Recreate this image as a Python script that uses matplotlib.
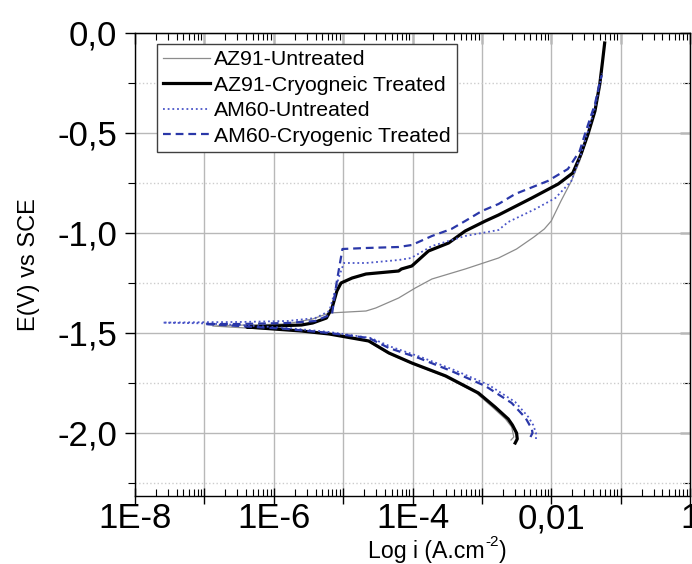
import numpy as np
import matplotlib
matplotlib.use("Agg")
import matplotlib.pyplot as plt
from matplotlib.ticker import FixedLocator, FuncFormatter, MultipleLocator, NullFormatter

plt.rcParams['font.family'] = ['Liberation Sans', 'DejaVu Sans']

# Polarization curves: log10 of current density (A/cm^2) and potential E (V vs SCE),
# each listed from the cathodic end, through the corrosion tip, to the anodic end.
az91_untreated_logi = [-2.58, -2.54, -2.57, -2.66, -2.85, -3.08, -3.55, -4.03, -4.36, -4.65,
                       -5.20, -5.80, -6.40, -6.88,
                       -6.40, -5.82, -5.44, -5.20, -4.67, -4.53, -4.20, -3.96, -3.72, -3.24,
                       -2.76, -2.50, -2.25, -2.10, -2.00, -1.86, -1.71, -1.59, -1.48, -1.38,
                       -1.30, -1.27]
az91_untreated_e = [-2.035, -2.02, -1.97, -1.93, -1.87, -1.80, -1.715, -1.65, -1.60, -1.54,
                    -1.505, -1.485, -1.475, -1.465,
                    -1.46, -1.455, -1.43, -1.40, -1.39, -1.375, -1.325, -1.275, -1.23, -1.18,
                    -1.125, -1.08, -1.02, -0.98, -0.94, -0.84, -0.74, -0.64, -0.52, -0.40,
                    -0.25, -0.18]

az91_cryo_logi = [-2.52, -2.49, -2.50, -2.56, -2.62, -2.81, -3.05, -3.52, -4.01, -4.34,
                  -4.63, -5.20, -5.60, -6.00, -6.39,
                  -6.00, -5.60, -5.44, -5.24, -5.16, -5.09, -5.03, -4.87, -4.67, -4.20,
                  -4.16, -4.01, -3.77, -3.48, -3.24, -2.95, -2.76, -2.28, -1.90, -1.69,
                  -1.57, -1.47, -1.37, -1.30, -1.26, -1.23]
az91_cryo_e = [-2.05, -2.03, -2.00, -1.96, -1.93, -1.87, -1.80, -1.715, -1.65, -1.60,
               -1.54, -1.505, -1.49, -1.48, -1.47,
               -1.465, -1.46, -1.45, -1.425, -1.375, -1.29, -1.25, -1.225, -1.205, -1.19,
               -1.18, -1.165, -1.09, -1.05, -0.99, -0.94, -0.91, -0.825, -0.755, -0.70,
               -0.605, -0.505, -0.39, -0.255, -0.14, -0.05]

am60_untreated_logi = [-2.22, -2.22, -2.26, -2.33, -2.52, -2.90, -3.40, -3.88, -4.30, -4.60,
                       -5.20, -5.80, -6.50, -7.00, -7.60,
                       -7.00, -6.50, -5.80, -5.40, -5.20, -5.06, -4.99, -4.67, -4.20, -4.02,
                       -3.72, -3.24, -2.76, -2.62, -2.23, -1.94, -1.71, -1.57, -1.47, -1.37,
                       -1.29, -1.27]
am60_untreated_e = [-2.03, -2.00, -1.96, -1.92, -1.845, -1.76, -1.685, -1.62, -1.57, -1.525,
                    -1.495, -1.475, -1.46, -1.452, -1.448,
                    -1.446, -1.445, -1.44, -1.425, -1.39, -1.22, -1.15, -1.15, -1.135, -1.125,
                    -1.065, -1.015, -0.985, -0.945, -0.88, -0.825, -0.74, -0.605, -0.49, -0.375,
                    -0.24, -0.20]

am60_cryo_logi = [-2.30, -2.27, -2.28, -2.37, -2.57, -2.95, -3.44, -3.91, -4.34, -4.63,
                  -5.20, -5.80, -6.50, -7.00,
                  -6.50, -5.80, -5.40, -5.16, -5.09, -5.01, -4.67, -4.20, -4.01, -3.72,
                  -3.44, -3.24, -3.00, -2.76, -2.52, -2.05, -1.76, -1.59, -1.50, -1.37,
                  -1.29, -1.27]
am60_cryo_e = [-2.02, -2.00, -1.98, -1.925, -1.85, -1.765, -1.69, -1.625, -1.575, -1.525,
               -1.50, -1.48, -1.465, -1.455,
               -1.455, -1.45, -1.44, -1.405, -1.24, -1.08, -1.075, -1.07, -1.06, -1.015,
               -0.98, -0.94, -0.89, -0.855, -0.805, -0.74, -0.68, -0.59, -0.49, -0.355,
               -0.23, -0.21]

series_labels = ['AZ91-Untreated', 'AZ91-Cryogneic Treated',
                 'AM60-Untreated', 'AM60-Cryogenic Treated']

x_tick_labels = {-8: '1E-8', -6: '1E-6', -4: '1E-4', -2: '0,01', 0: '1'}

W, H = 692, 564
fig = plt.figure(figsize=(W / 100, H / 100), dpi=100)
ax = fig.add_axes([135 / W, 68 / H, 555 / W, 463 / H])

ax.set_xscale('log')
ax.set_xlim(1e-8, 1)
ax.set_ylim(-2.315, 0.0)

styles = [
    dict(color='#8c8c8c', lw=0.9, ls='-'),
    dict(color='black', lw=2.3, ls='-'),
    dict(color='#4a55c8', lw=1.3, ls=(0, (1.0, 1.6))),
    dict(color='#2a37a8', lw=1.6, ls=(0, (3.5, 2.2))),
]
data = [(az91_untreated_logi, az91_untreated_e),
        (az91_cryo_logi, az91_cryo_e),
        (am60_untreated_logi, am60_untreated_e),
        (am60_cryo_logi, am60_cryo_e)]
for (logi, e), lab, st in zip(data, series_labels, styles):
    ax.plot(10.0 ** np.asarray(logi), e, label=lab, zorder=3, **st)

# grid
ax.grid(which='major', axis='both', color='#b8b8b8', lw=1.0, zorder=0)
ax.grid(which='minor', axis='y', color='#cccccc', lw=1.0, ls=':', zorder=0)
ax.set_axisbelow(True)

# x ticks
decades = np.arange(-8, 1)
ax.xaxis.set_major_locator(FixedLocator(10.0 ** decades))
minor = [m * 10.0 ** d for d in decades[:-1] for m in range(2, 10)]
ax.xaxis.set_minor_locator(FixedLocator(minor))
ax.xaxis.set_major_formatter(FuncFormatter(
    lambda v, p: x_tick_labels.get(int(round(np.log10(v))), '')))
ax.xaxis.set_minor_formatter(NullFormatter())

# y ticks
ax.yaxis.set_major_locator(MultipleLocator(0.5))
ax.yaxis.set_minor_locator(MultipleLocator(0.25))
ax.yaxis.set_major_formatter(FuncFormatter(lambda v, p: f'{v:.1f}'.replace('.', ',')))

ax.tick_params(axis='x', which='major', direction='inout', length=12, width=1.0,
               labelsize=25, pad=-1.5, top=False)
ax.tick_params(axis='x', which='minor', direction='in', length=5, width=0.8, top=False)
ax.tick_params(axis='y', which='major', direction='out', length=7, width=1.0,
               labelsize=25, pad=6, right=False)
ax.tick_params(axis='y', which='minor', direction='out', length=5, width=0.8, right=False)

# top and right ticks pointing inward
top = ax.secondary_xaxis('top')
top.xaxis.set_major_locator(FixedLocator(10.0 ** decades))
top.xaxis.set_minor_locator(FixedLocator(minor))
top.xaxis.set_major_formatter(NullFormatter())
top.xaxis.set_minor_formatter(NullFormatter())
top.tick_params(axis='x', which='major', direction='in', length=8, width=1.0)
top.tick_params(axis='x', which='minor', direction='in', length=5, width=0.8)

right = ax.secondary_yaxis('right')
right.yaxis.set_major_locator(MultipleLocator(0.5))
right.yaxis.set_minor_locator(MultipleLocator(0.25))
right.yaxis.set_major_formatter(NullFormatter())
right.tick_params(axis='y', which='major', direction='in', length=7, width=1.0)
right.tick_params(axis='y', which='minor', direction='in', length=5, width=0.8)

for sp in ax.spines.values():
    sp.set_linewidth(1.0)

ax.set_ylabel('E(V) vs SCE', fontsize=17, labelpad=12)

# x-axis title with a raised "-2" exponent, laid out piece by piece
renderer = fig.canvas.get_renderer()
base_y = (H - 558) / H
t1 = fig.text(368 / W, base_y, 'Log i (A.cm', fontsize=16.7, va='baseline')
x1 = t1.get_window_extent(renderer).x1
t2 = fig.text(x1 / W + 0.5 / W, base_y + 12 / H, '-2', fontsize=11, va='baseline')
x2 = t2.get_window_extent(renderer).x1
fig.text(x2 / W + 0.5 / W, base_y, ')', fontsize=16.7, va='baseline')

leg = ax.legend(loc='upper left', bbox_to_anchor=(22 / 555, 1 - 11 / 463),
                borderaxespad=0, fontsize=15.3, frameon=True, fancybox=False,
                framealpha=1, edgecolor='#404040', handlelength=2.2,
                handletextpad=0.2, labelspacing=0.3, borderpad=0.3)
leg.get_frame().set_linewidth(1.0)

fig.savefig('out.png', dpi=100)
